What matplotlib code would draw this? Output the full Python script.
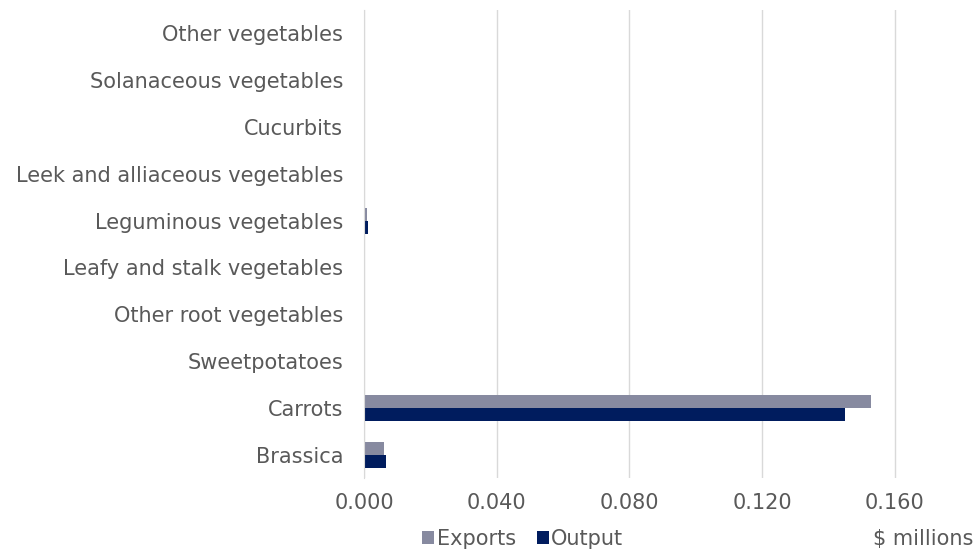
import numpy as np
import matplotlib.pyplot as plt

categories = ['Brassica', 'Carrots', 'Sweetpotatoes', 'Other root vegetables',
              'Leafy and stalk vegetables', 'Leguminous vegetables',
              'Leek and alliaceous vegetables', 'Cucurbits',
              'Solanaceous vegetables', 'Other vegetables']
exports = [0.0060, 0.1527, 0.0, 0.0, 0.0, 0.0010, 0.0, 0.0, 0.0, 0.0]
output = [0.0066, 0.1450, 0.0, 0.0, 0.0, 0.0011, 0.0, 0.0, 0.0, 0.0]
xticks = [0.0, 0.04, 0.08, 0.12, 0.16]

c_exp = '#878AA0'
c_out = '#001C5E'
grey = '#595959'

fs = 15
fam = ['DejaVu Sans']

fig = plt.figure(figsize=(9.74, 5.53), dpi=100)
ax = fig.add_axes([0.3737, 0.1356, 0.547, 0.8463])

y = np.arange(len(categories))
h = 0.28
ax.barh(y + h / 2, exports, height=h, color=c_exp, label='Exports')
ax.barh(y - h / 2, output, height=h, color=c_out, label='Output')

ax.set_xlim(0, 0.1606)
ax.set_ylim(-0.5, len(categories) - 0.5)
ax.set_xticks(xticks)
ax.set_xticklabels(['%.3f' % v for v in xticks], family=fam, fontsize=fs, color=grey)
ax.set_yticks(y)
ax.set_yticklabels(categories, family=fam, fontsize=fs, color=grey)
ax.tick_params(axis='both', length=0)
ax.tick_params(axis='x', pad=11)
ax.tick_params(axis='y', pad=15)

ax.grid(axis='x', color='#D9D9D9', linewidth=1)
ax.set_axisbelow(True)
for s in ['top', 'right', 'bottom']:
    ax.spines[s].set_visible(False)
ax.spines['left'].set_color('#D9D9D9')

leg = fig.legend(loc='lower left', bbox_to_anchor=(0.414, -0.027), ncol=2,
                 frameon=False, prop={'family': fam, 'size': fs},
                 handlelength=0.6, handleheight=0.6,
                 handletextpad=0.1, columnspacing=1.0)
for t in leg.get_texts():
    t.set_color(grey)

fig.text(0.999, 0.008, '$ millions', ha='right', va='bottom', fontsize=fs,
         family=fam, color=grey)

fig.savefig('out.png', dpi=100)
